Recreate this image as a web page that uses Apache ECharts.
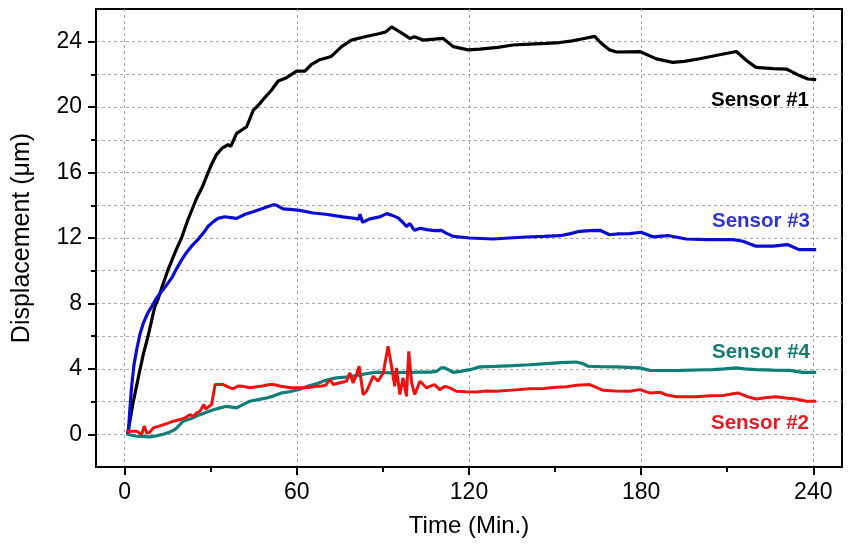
<!DOCTYPE html>
<html><head><meta charset="utf-8">
<script src="https://cdn.jsdelivr.net/npm/echarts@6/dist/echarts.min.js"></script>
<style>html,body{margin:0;padding:0;background:#fff}#c{width:851px;height:549px}</style>
</head><body><div id="c"></div>
<script>
// Tick values
const xMajorTicks = [0, 60, 120, 180, 240];
const xMinorTicks = [30, 90, 150, 210];
const yMajorTicks = [0, 4, 8, 12, 16, 20, 24];
const yMinorTicks = [2, 6, 10, 14, 18, 22];

// Series: [time (min), displacement (um)]
const sensor1 = [[1,0],[3,2.0],[5.2,3.85],[6.5,4.9],[8,5.9],[10.5,7.8],[11.7,8.3],[13,9.0],[15.2,10.1],[18,11.3],[19.8,12.0],[22,13.1],[25,14.4],[27,15.1],[28.6,15.8],[30,16.4],[32,17.1],[34,17.5],[36,17.7],[37,17.6],[39,18.4],[42.5,18.8],[44.8,19.8],[47,20.2],[48.9,20.6],[51,21.0],[53.5,21.6],[56.4,21.8],[59.9,22.2],[62.8,22.2],[65,22.6],[68,22.9],[72,23.1],[75.6,23.7],[79,24.1],[83.7,24.3],[88.9,24.5],[91,24.6],[93,24.9],[95.9,24.6],[99.4,24.2],[101,24.3],[104,24.1],[111,24.2],[114.5,23.7],[119.7,23.5],[123.8,23.55],[130,23.65],[135.4,23.8],[141,23.85],[147,23.9],[151.6,23.95],[156,24.05],[159.7,24.18],[163.8,24.33],[166,23.92],[169,23.5],[171.4,23.37],[179.5,23.4],[185.3,22.95],[191,22.74],[195,22.8],[200.4,22.96],[207.3,23.2],[213.2,23.4],[216.7,22.85],[220,22.43],[226,22.35],[230.6,22.33],[235.2,21.93],[238.1,21.72],[241,21.68]];
const sensor3 = [[1.25,0.05],[1.8,1.5],[2.4,2.9],[3.2,4.2],[4.2,5.2],[5.3,6.1],[6.5,6.8],[8,7.4],[9.4,7.8],[11,8.3],[12.9,8.74],[14.5,9.1],[16.4,9.56],[18,10.1],[19.9,10.68],[21.5,11.1],[23.3,11.5],[25.5,11.9],[27.4,12.3],[29,12.7],[30.9,13.0],[32.5,13.2],[34.9,13.3],[37,13.25],[39,13.2],[42,13.45],[44.8,13.6],[48,13.8],[51.8,14.04],[53,14.0],[55.2,13.78],[57.6,13.75],[61,13.69],[65.7,13.53],[70,13.45],[76.1,13.29],[80.2,13.2],[81.5,13.15],[82,13.45],[82.9,12.96],[85.4,13.17],[88.9,13.29],[91.3,13.49],[93,13.4],[95.3,13.23],[97,12.95],[98.2,12.71],[99.4,12.88],[101,12.47],[103,12.6],[105.2,12.51],[108,12.45],[110.4,12.47],[112,12.3],[114.5,12.1],[120.3,12.0],[128.4,11.94],[134,12.0],[140,12.06],[146,12.1],[151.7,12.14],[155,12.25],[158.6,12.41],[162,12.45],[165.6,12.47],[169,12.2],[172,12.25],[176,12.27],[180,12.35],[184,12.07],[189.3,12.15],[195.7,11.94],[203,11.9],[212,11.9],[215.5,11.8],[220,11.5],[226,11.5],[231,11.6],[235,11.29],[241,11.29]];
const sensor4 = [[0.7,0],[4.2,-0.12],[8.8,-0.16],[11,-0.1],[13.4,0],[15.5,0.12],[17.5,0.29],[19,0.55],[20.4,0.8],[23,0.95],[26.2,1.2],[28.5,1.35],[30.9,1.5],[33,1.6],[35.5,1.71],[39,1.61],[41,1.8],[43.6,2.02],[46,2.1],[49.5,2.22],[52,2.35],[54.7,2.53],[57.5,2.6],[61,2.75],[64,2.95],[67.4,3.12],[70,3.3],[73.8,3.45],[77,3.5],[80.8,3.59],[84,3.7],[87.8,3.8],[92.4,3.75],[96,3.78],[99.4,3.79],[103,3.8],[106.3,3.8],[108.7,3.85],[110.4,4.06],[111.5,4.06],[114.5,3.79],[117,3.85],[120.3,3.95],[123.8,4.12],[129,4.15],[135.4,4.2],[141,4.25],[147,4.32],[152,4.38],[157.4,4.42],[159.7,4.32],[161.5,4.16],[166,4.14],[171.4,4.12],[179.5,4.06],[183,3.91],[188,3.9],[193.4,3.91],[199,3.93],[205,3.95],[209,4.0],[213.2,4.06],[216,4.0],[220,3.95],[226,3.92],[231.7,3.91],[236.4,3.79],[241,3.79]];
const sensor2 = [[0.7,0.18],[4.2,0.18],[5.9,-0.02],[6.5,0.05],[6.8,0.5],[7.7,0.08],[8.5,0.1],[10,0.39],[12,0.5],[14.6,0.65],[17,0.8],[19.3,0.9],[21,1.0],[22.7,1.2],[24,1.1],[25,1.3],[26.2,1.41],[27.6,1.82],[28.2,1.55],[28.8,1.51],[30.3,1.82],[31.5,3.04],[34.3,3.04],[36,2.9],[37.8,2.78],[39.5,2.95],[41.3,2.93],[43.6,2.84],[46,2.9],[48,2.95],[50.6,3.04],[51.8,3.04],[54,2.95],[57.6,2.84],[60,2.85],[63.4,2.84],[66.9,2.93],[68,2.93],[70,3.0],[71.5,3.34],[72.7,3.04],[75,3.15],[77.3,3.24],[78.5,3.75],[79.6,3.14],[80.8,3.65],[81.7,4.16],[83.1,2.43],[84.3,2.63],[86.6,3.55],[88.3,3.24],[90.1,3.75],[91.8,5.38],[93,4.16],[94.1,2.93],[94.7,4.06],[95.9,2.43],[97,3.45],[98.2,2.32],[99,5.07],[100,3.14],[101.1,2.43],[102.9,3.24],[105.2,2.84],[106.3,2.93],[108,3.04],[109.8,2.73],[111.6,2.93],[113.3,2.84],[115.6,2.63],[119,2.6],[122.6,2.59],[126,2.65],[129.6,2.63],[135,2.7],[141.2,2.78],[146,2.8],[150.5,2.87],[154,2.9],[157.4,3.0],[162,3.04],[164,2.9],[166.7,2.69],[171,2.65],[176,2.63],[179.5,2.73],[183,2.53],[186.5,2.57],[189,2.4],[192.3,2.29],[196,2.3],[199.2,2.29],[204,2.35],[208.5,2.37],[211,2.45],[213.7,2.53],[217,2.3],[220,2.16],[224,2.25],[227,2.29],[231,2.2],[234,2.16],[237.5,2.02],[241,2.02]];

const FONT = '"Liberation Sans", Arial, sans-serif';
const grid = {color: '#a8a8a8', width: 1, type: [3, 3]};

const chart = echarts.init(document.getElementById('c'), null, {renderer: 'canvas'});
function line(name, data, color, w) {
  return {name, type: 'line', data, xAxisIndex: 0, yAxisIndex: 0, showSymbol: false, symbol: 'none',
    lineStyle: {color, width: w}, itemStyle: {color}, animation: false, z: 3};
}
chart.setOption({
  animation: false,
  backgroundColor: '#fff',
  grid: {left: 96, right: 9, top: 9, bottom: 82, show: true, borderColor: '#000', borderWidth: 2, backgroundColor: 'transparent'},
  xAxis: [{
    type: 'value', min: -10, max: 250, position: 'bottom',
    name: 'Time (Min.)', nameLocation: 'middle', nameGap: 47,
    nameTextStyle: {fontFamily: FONT, fontSize: 24, color: '#000'},
    axisLine: {show: true, onZero: false, lineStyle: {color: '#000', width: 2}},
    axisTick: {show: true, customValues: xMajorTicks, length: 8, inside: false, lineStyle: {color: '#000', width: 2}},
    axisLabel: {show: true, customValues: xMajorTicks, margin: 14, fontFamily: FONT, fontSize: 23, color: '#000'},
    splitLine: {show: true, lineStyle: grid}
  }, {
    type: 'value', min: -10, max: 250, position: 'bottom',
    axisLine: {show: false, onZero: false},
    axisTick: {show: true, customValues: xMinorTicks, length: 5, inside: false, lineStyle: {color: '#000', width: 2}},
    axisLabel: {show: false},
    splitLine: {show: false}
  }],
  yAxis: [{
    type: 'value', min: -2, max: 26, position: 'left',
    name: 'Displacement (\u03bcm)', nameLocation: 'middle', nameGap: 61, nameRotate: 90,
    nameTextStyle: {fontFamily: FONT, fontSize: 25, color: '#000'},
    axisLine: {show: true, onZero: false, lineStyle: {color: '#000', width: 2}},
    axisTick: {show: true, customValues: yMajorTicks, length: 8, lineStyle: {color: '#000', width: 2}},
    axisLabel: {show: true, customValues: yMajorTicks, margin: 14, fontFamily: FONT, fontSize: 23, color: '#000'},
    splitLine: {show: true, lineStyle: grid}
  }, {
    type: 'value', min: -2, max: 26, position: 'left',
    axisLine: {show: false, onZero: false},
    axisTick: {show: true, customValues: yMinorTicks, length: 5, inside: false, lineStyle: {color: '#000', width: 2}},
    axisLabel: {show: false},
    splitLine: {show: true, lineStyle: grid}
  }],
  series: [
    line('Sensor #1', sensor1, '#000000', 3.2),
    line('Sensor #3', sensor3, '#0c0cd0', 3.2),
    line('Sensor #4', sensor4, '#0e7f77', 3.2),
    line('Sensor #2', sensor2, '#ee1111', 3)
  ],
  graphic: [
    {type: 'text', x: 809, y: 100, style: {text: 'Sensor #1', align: 'right', verticalAlign: 'middle', fontFamily: FONT, fontWeight: 'bold', fontSize: 20.5, fill: '#000'}},
    {type: 'text', x: 810, y: 221, style: {text: 'Sensor #3', align: 'right', verticalAlign: 'middle', fontFamily: FONT, fontWeight: 'bold', fontSize: 20.5, fill: '#3434d4'}},
    {type: 'text', x: 810, y: 352, style: {text: 'Sensor #4', align: 'right', verticalAlign: 'middle', fontFamily: FONT, fontWeight: 'bold', fontSize: 20.5, fill: '#16796f'}},
    {type: 'text', x: 809, y: 423, style: {text: 'Sensor #2', align: 'right', verticalAlign: 'middle', fontFamily: FONT, fontWeight: 'bold', fontSize: 20.5, fill: '#e21c26'}}
  ]
});
</script></body></html>
